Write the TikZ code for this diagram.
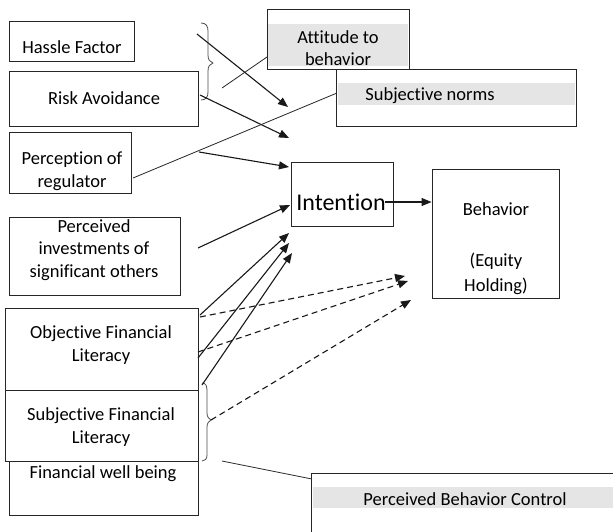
\documentclass[tikz,border=0pt]{standalone}
\usepackage{fontspec}
\setmainfont{Carlito}[Ligatures=NoCommon]
\usetikzlibrary{fit,arrows.meta}
\begin{document}
\begin{tikzpicture}[x=1pt,y=-1pt,
  box/.style={draw=black!85, line width=0.9pt, inner sep=0pt},
  band/.style={fill=black!10, draw=none, inner sep=0pt},
  txt/.style={font=\fontsize{18.5}{22.5}\selectfont, align=center, inner sep=0pt, text=black},
  arr/.style={-{Triangle[length=10pt,width=8pt]}, line width=1.1pt, draw=black!90},
  darr/.style={-{Triangle[length=10pt,width=8pt]}, line width=1.1pt, draw=black!90, dash pattern=on 6pt off 4pt},
  plain/.style={line width=0.8pt, draw=black!85},
  brace/.style={line width=0.8pt, draw=black!70}]
\clip (0,0) rectangle (613,531);
% boxes
\node[box, fit={(9,21)(134,61)}] (hassle) {};
\node[txt] at (72,47) {Hassle Factor};
\node[box, fit={(9,71)(198,126)}] (risk) {};
\node[txt] at (104,98) {Risk Avoidance};
\node[box, fit={(9,132)(131,193)}] (regul) {};
\node[txt] at (72,171) {Perception of\\regulator};
\node[box, fit={(267,9)(409,69)}] (att) {};
\node[band, fit={(268,24)(408,66)}] (attband) {};
\node[txt] at (338,48) {Attitude to\\behavior};
\node[box, fit={(336,69)(576,126)}] (norms) {};
\node[band, fit={(338,83)(575,105)}] (normsband) {};
\node[txt] at (430,96) {Subjective norms};
\node[box, fit={(291,162)(393,226)}] (intent) {};
\node[txt, font=\fontsize{24}{28}\selectfont] at (341,202) {Intention};
\node[box, fit={(432,169)(559,298)}] (beh) {};
\node[txt] at (496,209) {Behavior};
\node[txt, font=\fontsize{18.5}{25}\selectfont] at (496,274) {(Equity\\Holding)};
\node[box, fit={(9,217)(180,295)}] (invest) {};
\node[txt] at (94,250) {Perceived\\investments of\\significant others};
\node[box, fit={(5,308)(198,390)}] (objfl) {};
\node[txt] at (101,345) {Objective Financial\\Literacy};
\node[box, fit={(5,390)(198,461)}] (subfl) {};
\node[txt] at (101,427) {Subjective Financial\\Literacy};
\node[box, fit={(9,461)(198,515)}] (wellb) {};
\node[txt] at (103,474) {Financial well being};
\node[box, fit={(311,473)(630,545)}] (pbc) {};
\node[band, fit={(313,487)(630,508)}] (pbcband) {};
\node[txt] at (465,499) {Perceived Behavior Control};
% braces
\draw[brace] (201,23) .. controls (206,23) and (208,26) .. (208,31) -- (208,55)
  .. controls (208,60) and (210,62) .. (213,63) .. controls (210,64) and (208,66) .. (208,71)
  -- (208,92) .. controls (208,97) and (206,100) .. (201,100);
\draw[brace] (202,383) .. controls (206,383) and (207,386) .. (207,391) -- (207,413)
  .. controls (207,417) and (209,419) .. (211,420) .. controls (209,421) and (207,423) .. (207,427)
  -- (207,455) .. controls (207,459) and (205,461) .. (202,461);
% named free ends
\coordinate (s1) at (197,34);  \coordinate (e1) at (288,107);
\coordinate (s2) at (200,95);  \coordinate (e2) at (289,138);
\coordinate (s3) at (199,152); \coordinate (e3) at (289,167);
\coordinate (s4) at (198,248); \coordinate (e4) at (290,205);
\coordinate (s5) at (200,315); \coordinate (e5) at (289,233);
\coordinate (s6) at (198,358); \coordinate (e6) at (289,243);
\coordinate (s7) at (202,385); \coordinate (e7) at (292,253);
\coordinate (t1) at (200,317); \coordinate (f1) at (405,276);
\coordinate (t2) at (198,352); \coordinate (f2) at (408,281);
\coordinate (t3) at (211,420); \coordinate (f3) at (411,300);
\coordinate (attp) at (267,57); \coordinate (attq) at (222,88);
\coordinate (normp) at (337,93); \coordinate (normq) at (133,178);
\coordinate (pbcp) at (312,479); \coordinate (pbcq) at (222,461);
\coordinate (ib) at (385,202);
% solid arrows
\draw[arr] (s1) -- (e1);
\draw[arr] (s2) -- (e2);
\draw[arr] (s3) -- (e3);
\draw[arr] (s4) -- (e4);
\draw[arr] (s5) -- (e5);
\draw[arr] (s6) -- (e6);
\draw[arr] (s7) -- (e7);
% dashed arrows
\draw[darr] (t1) -- (f1);
\draw[darr] (t2) -- (f2);
\draw[darr] (t3) -- (f3);
% plain lines
\draw[plain] (attp) -- (attq);
\draw[plain] (normp) -- (normq);
\draw[plain] (pbcp) -- (pbcq);
% intention to behavior
\draw[arr] (ib) -- (beh.west |- ib);
\end{tikzpicture}
\end{document}
